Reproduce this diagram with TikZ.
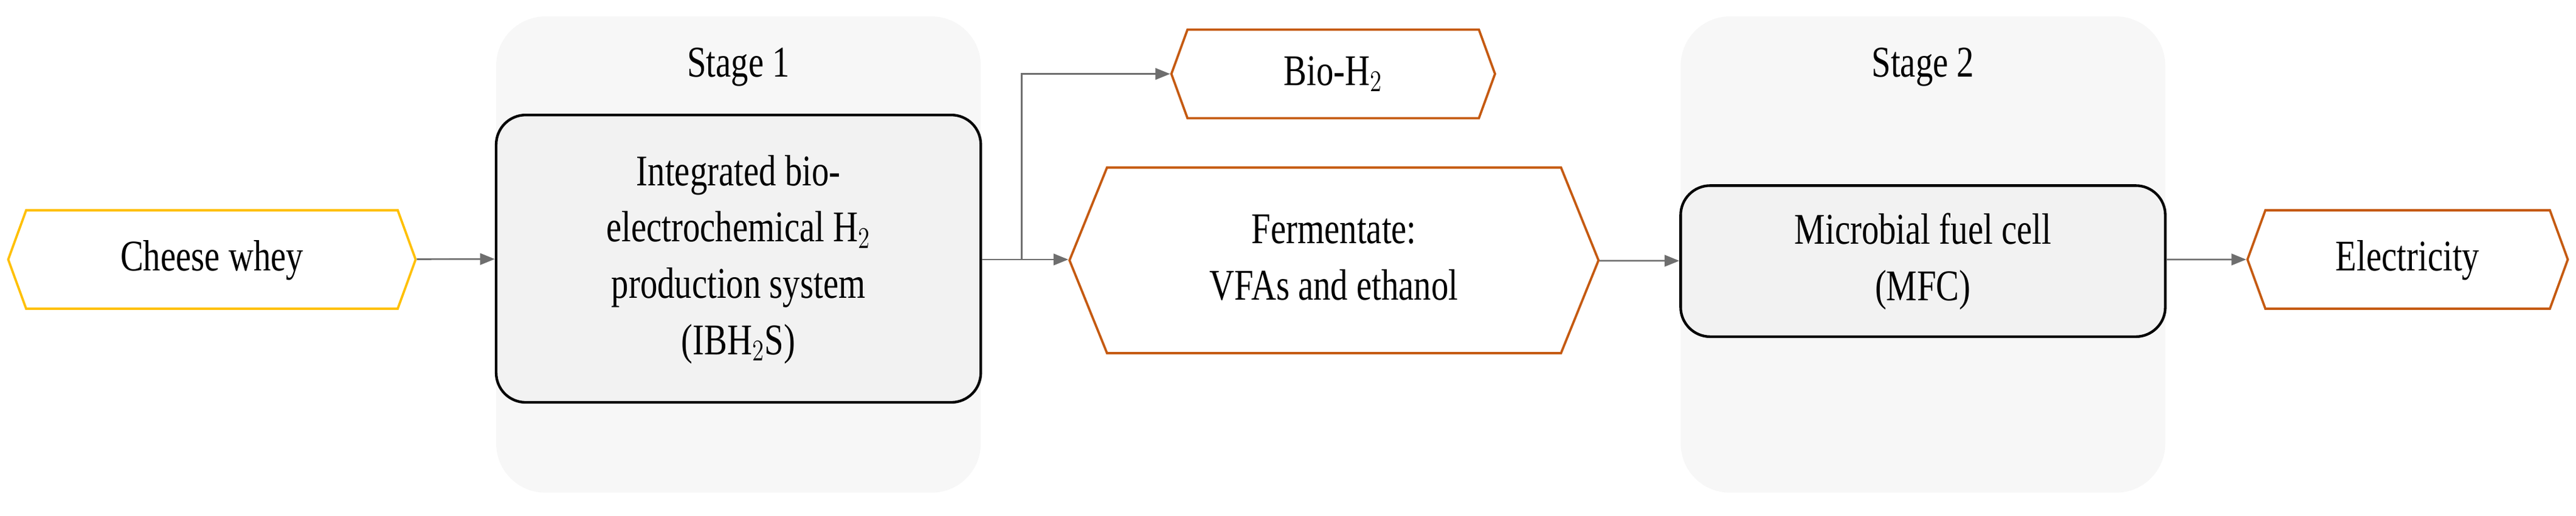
\documentclass[tikz,border=0pt]{standalone}
\usepackage{fontspec}
\usepackage{graphicx}
\setmainfont{Liberation Serif}
\usetikzlibrary{shapes.symbols,arrows.meta}
\definecolor{brn}{HTML}{C55A11}
\definecolor{yel}{HTML}{FFC000}
\definecolor{arr}{HTML}{6E6E6E}
\newcommand{\tx}[1]{\scalebox{1}[1.27]{\fontsize{21}{27}\selectfont\begin{tabular}{@{}c@{}}#1\end{tabular}}}
\begin{document}
\begin{tikzpicture}[x=1pt,y=-1pt,
  stagebg/.style={fill=black!3,draw=none,rounded corners=30pt},
  proc/.style={draw=black,line width=1.6pt,fill=black!5,rounded corners=18pt,inner sep=0pt},
  hexa/.style={draw,line width=1.4pt,fill=white,shape=signal,signal to=west and east,signal pointer angle=140,inner sep=0pt},
  flow/.style={draw=arr,line width=1pt,-{Triangle[length=9pt,width=7pt]}}]
\useasboundingbox (0,0) rectangle (1568,314);
\node[stagebg,minimum width=295pt,minimum height=290pt] (s1) at (449.5,155) {};
\node[stagebg,minimum width=295pt,minimum height=290pt] (s2) at (1170.5,155) {};
\node (t1) at (449.5,40) {\tx{Stage 1}};
\node (t2) at (1170.5,40) {\tx{Stage 2}};
\node[proc,minimum width=295pt,minimum height=175pt] (ib) at (449.5,157.5) {\tx{Integrated bio-\\electrochemical H$_2$\\production system\\(IBH$_2$S)}};
\node[proc,minimum width=295pt,minimum height=92pt] (mfc) at (1170.5,159) {\tx{Microbial fuel cell\\(MFC)}};
\node[hexa,draw=yel,minimum width=248pt,minimum height=60pt] (cw) at (129,158) {\tx{Cheese whey}};
\node[hexa,draw=brn,minimum width=197pt,minimum height=54pt] (bh) at (811.5,45) {\tx{Bio-H$_2$}};
\node[hexa,draw=brn,minimum width=322pt,minimum height=113pt,signal pointer angle=136] (fe) at (812,158.5) {\tx{Fermentate:\\VFAs and ethanol}};
\node[hexa,draw=brn,minimum width=195pt,minimum height=60pt] (el) at (1465.5,158) {\tx{Electricity}};
\coordinate (j) at (622,158);
\draw[flow] (cw) -- (ib);
\draw[flow] (ib.east |- j) -- (fe.west |- j);
\draw[flow] (j) |- (bh.west);
\draw[flow] (fe) -- (mfc);
\draw[flow] (mfc.east |- el) -- (el);
\end{tikzpicture}
\end{document}
